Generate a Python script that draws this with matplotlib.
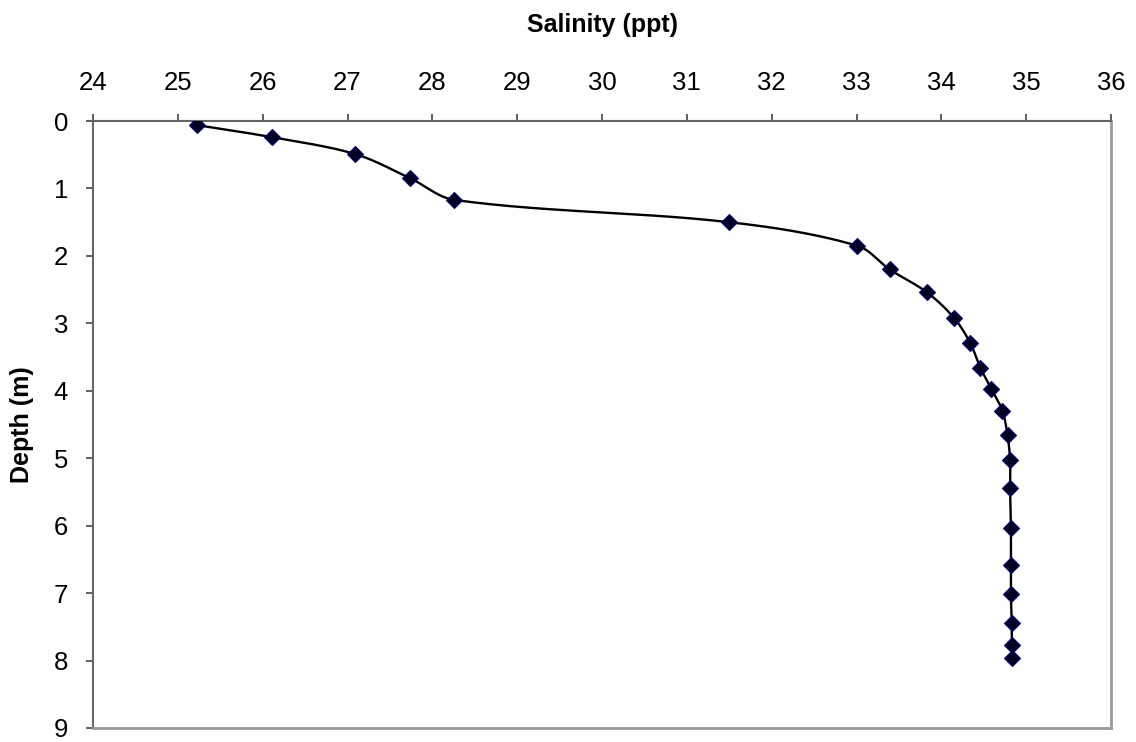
import numpy as np
import matplotlib
matplotlib.use('Agg')
import matplotlib.pyplot as plt

plt.rcParams['font.family'] = ['Liberation Sans', 'DejaVu Sans']

# Ölçüm verileri (okunan değerler)
salinity = [25.22, 26.11, 27.09, 27.74, 28.26, 31.50, 33.01, 33.39, 33.83,
            34.15, 34.34, 34.46, 34.59, 34.72, 34.78, 34.81, 34.81, 34.82,
            34.82, 34.82, 34.83, 34.83, 34.83]
depth = [0.06, 0.24, 0.49, 0.85, 1.17, 1.50, 1.85, 2.20, 2.54,
         2.92, 3.29, 3.66, 3.97, 4.30, 4.66, 5.02, 5.44, 6.03,
         6.58, 7.02, 7.44, 7.77, 7.96]
x_ticks = list(range(24, 37))
y_ticks = list(range(0, 10))


# Yumuşatılmış çizgi: teğet yönü komşulardan, uzunluğu segmentten
def smooth_line(xs, ys, sx, sy, n=30):
    p = np.column_stack([np.asarray(xs) * sx, np.asarray(ys) * sy])
    p = np.vstack([p[0], p, p[-1]])
    out = []
    for i in range(1, len(p) - 2):
        p0, p1, p2, p3 = p[i - 1], p[i], p[i + 1], p[i + 2]
        L = np.linalg.norm(p2 - p1)
        d1 = p2 - p0
        d2 = p3 - p1
        d1 = d1 / (np.linalg.norm(d1) + 1e-12)
        d2 = d2 / (np.linalg.norm(d2) + 1e-12)
        c1 = p1 + d1 * L / 3.0
        c2 = p2 - d2 * L / 3.0
        t = np.linspace(0, 1, n)[:, None]
        seg = ((1 - t) ** 3) * p1 + 3 * ((1 - t) ** 2) * t * c1 + 3 * (1 - t) * t ** 2 * c2 + t ** 3 * p2
        out.append(seg)
    out = np.vstack(out)
    return out[:, 0] / sx, out[:, 1] / sy


fig = plt.figure(figsize=(11.36, 7.42), dpi=100)
ax = fig.add_axes([0.0819, 0.0189, 0.8961, 0.818])

sx = 1018 / 12.0
sy = 607 / 9.0
lx, ly = smooth_line(salinity, depth, sx, sy)
ax.plot(lx, ly, color='black', lw=1.7, zorder=2)
ax.plot(salinity, depth, linestyle='none', marker='D', markersize=8,
        markerfacecolor='#000020', markeredgecolor='#000080', markeredgewidth=0.8,
        zorder=3)

ax.set_xlim(24, 36)
ax.set_ylim(9, 0)
ax.set_xticks(x_ticks)
ax.set_yticks(y_ticks)
ax.xaxis.tick_top()
ax.xaxis.set_label_position('top')
ax.tick_params(axis='x', direction='out', length=5, width=1.2, color='#444444',
               labelsize=18.5, pad=14)
ax.tick_params(axis='y', direction='out', length=5, width=1.2, color='#444444',
               labelsize=18.5, pad=13)

ax.set_xlabel('Salinity (ppt)', fontsize=18, fontweight='bold', labelpad=28)
ax.set_ylabel('Depth (m)', fontsize=18, fontweight='bold', labelpad=14)

for side in ['left', 'top']:
    ax.spines[side].set_color('#666666')
    ax.spines[side].set_linewidth(1.5)
for side in ['right', 'bottom']:
    ax.spines[side].set_color('#9a9a9a')
    ax.spines[side].set_linewidth(2)

fig.savefig('out.png', dpi=100)
